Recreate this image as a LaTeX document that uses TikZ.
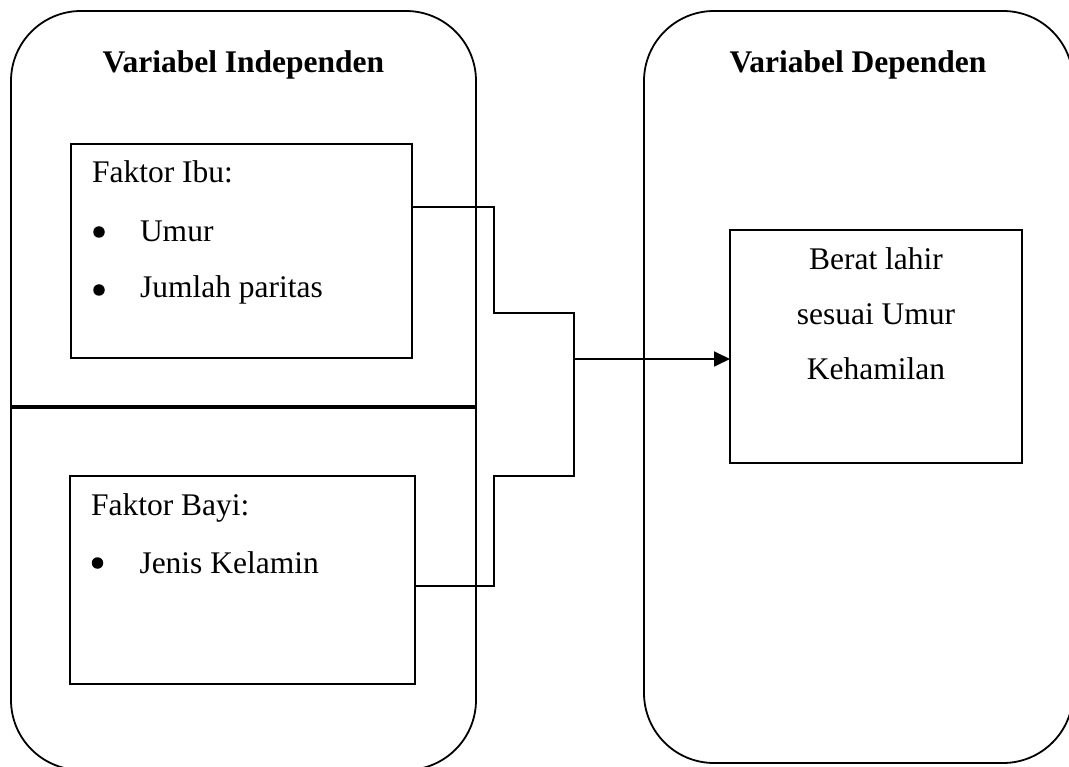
\documentclass[tikz,border=0pt]{standalone}
\usepackage{fontspec}
\setmainfont{Liberation Serif}
\usetikzlibrary{arrows.meta}
\tikzset{
  bigbox/.style={draw, line width=1.8pt, rounded corners=70pt, inner sep=0pt, outer sep=0pt},
  factorbox/.style={draw, line width=1.8pt, inner sep=0pt, outer sep=0pt},
  txt/.style={inner sep=0pt, outer sep=0pt, font=\fontsize{31.5}{38}\selectfont},
  ttl/.style={inner sep=0pt, outer sep=0pt, font=\fontsize{31.5}{38}\selectfont\bfseries},
  bul/.style={circle, fill, inner sep=0pt, outer sep=0pt, minimum size=11.5pt},
  conn/.style={line width=1.8pt},
}
\begin{document}
\begin{tikzpicture}[x=1pt,y=-1pt]
\useasboundingbox (0,0) rectangle (1069,767);
\clip (0,0) rectangle (1069,767);
\fill[white] (0,0) rectangle (1069,767);
% big rounded containers
\node[bigbox, minimum width=465pt, minimum height=759pt] (indep) at (243.5,390.5) {};
\node[bigbox, minimum width=429pt, minimum height=752pt] (dep) at (858.5,387) {};
% titles
\node[ttl, anchor=base] (tindep) at (243.5,73) {Variabel Independen};
\node[ttl, anchor=base] (tdep) at (858,73) {Variabel Dependen};
% separator
\coordinate (sep) at (0,407);
\draw[line width=3.2pt] (indep.west |- sep) -- (indep.east |- sep);
% factor boxes
\node[factorbox, minimum width=341pt, minimum height=214pt] (ibu) at (241.5,251) {};
\node[factorbox, minimum width=345pt, minimum height=208pt] (bayi) at (242.5,580) {};
\node[factorbox, minimum width=292pt, minimum height=233pt] (berat) at (876,346.5) {};
% texts in Faktor Ibu
\node[txt, anchor=base west] (fi) at (92,183) {Faktor Ibu:};
\node[bul] (bu1) at (99,232) {};
\node[txt, anchor=base west] (umur) at (140,242) {Umur};
\node[bul] (bu2) at (99,290) {};
\node[txt, anchor=base west] (jp) at (140,298) {Jumlah paritas};
% texts in Faktor Bayi
\node[txt, anchor=base west] (fb) at (91,515) {Faktor Bayi:};
\node[bul] (bu3) at (97.5,563) {};
\node[txt, anchor=base west] (jk) at (139.5,573) {Jenis Kelamin};
% texts in outcome box
\node[txt, anchor=base] (br1) at (876,270) {Berat lahir};
\node[txt, anchor=base] (br2) at (876,325) {sesuai Umur};
\node[txt, anchor=base] (br3) at (876,380) {Kehamilan};
% connector
\coordinate (a1) at (494,207);
\coordinate (a2) at (494,313);
\coordinate (a3) at (574,313);
\coordinate (a4) at (574,476);
\coordinate (a5) at (494,476);
\coordinate (a6) at (494,586);
\coordinate (m) at (574,359);
\draw[conn] (ibu.east |- a1) -- (a1) -- (a2) -- (a3) -- (a4) -- (a5) -- (a6) -- (bayi.east |- a6);
\draw[conn, -{Triangle[length=16pt,width=15pt]}] (m) -- (berat.west |- m);
\end{tikzpicture}
\end{document}
